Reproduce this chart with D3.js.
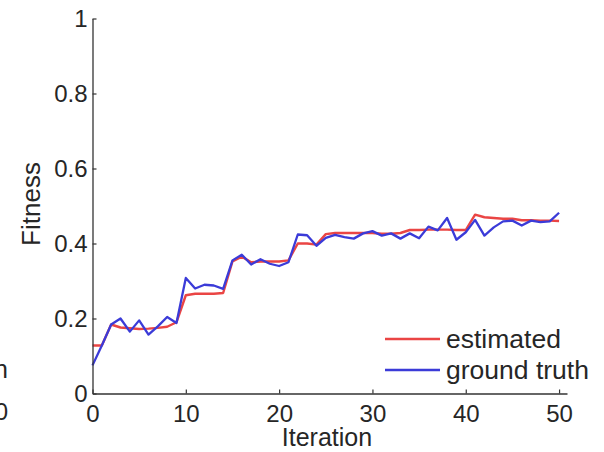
<!DOCTYPE html>
<html>
<head>
<meta charset="utf-8">
<script src="https://cdn.jsdelivr.net/npm/d3@7"></script>
<style>
  html, body { margin: 0; padding: 0; background: #fff; }
  svg { display: block; font-family: "Liberation Sans", Arial, sans-serif; }
</style>
</head>
<body>
<div id="chart"></div>
<script>
const iterations = d3.range(0, 51)

const estimated = [
  0.128, 0.128, 0.184, 0.176, 0.174, 0.172, 0.173, 0.175, 0.178, 0.190,
  0.262, 0.266, 0.266, 0.266, 0.268, 0.352, 0.365, 0.350, 0.352, 0.352,
  0.352, 0.355, 0.400, 0.400, 0.397, 0.425, 0.428, 0.428, 0.428, 0.428,
  0.428, 0.426, 0.426, 0.428, 0.436, 0.436, 0.437, 0.437, 0.437, 0.436,
  0.436, 0.477, 0.470, 0.468, 0.466, 0.466, 0.462, 0.462, 0.461, 0.461,
  0.460
]

const groundTruth = [
  0.075, 0.128, 0.184, 0.200, 0.165, 0.195, 0.157, 0.179, 0.204, 0.188,
  0.308, 0.280, 0.290, 0.288, 0.279, 0.355, 0.370, 0.344, 0.358, 0.346,
  0.340, 0.350, 0.424, 0.422, 0.394, 0.415, 0.423, 0.417, 0.413, 0.427,
  0.433, 0.421, 0.427, 0.413, 0.427, 0.414, 0.445, 0.435, 0.468, 0.410,
  0.430, 0.463, 0.421, 0.443, 0.459, 0.461, 0.448, 0.461, 0.457, 0.459,
  0.482
]

const xTicks = [0, 10, 20, 30, 40, 50]
const yTicks = [0, 0.2, 0.4, 0.6, 0.8, 1]
const seriesNames = ["estimated", "ground truth"]
const seriesColors = ["#ea4544", "#3b3bd8"]

const width = 604
const height = 452

const svg = d3.select("#chart")
  .append("svg")
  .attr("width", width)
  .attr("height", height)

const x = d3.scaleLinear()
  .domain([0, 50.85])
  .range([92.5, 567])

const y = d3.scaleLinear()
  .domain([0, 1])
  .range([393.5, 18.5])

const textColor = "#262626"
const axisColor = "#333"

// Lines
const line = d3.line()
  .x((d, i) => x(iterations[i]))
  .y(d => y(d))

svg.append("path")
  .datum(estimated)
  .attr("fill", "none")
  .attr("stroke", seriesColors[0])
  .attr("stroke-width", 2.4)
  .attr("stroke-linejoin", "round")
  .attr("d", line)

svg.append("path")
  .datum(groundTruth)
  .attr("fill", "none")
  .attr("stroke", seriesColors[1])
  .attr("stroke-width", 2.3)
  .attr("stroke-linejoin", "round")
  .attr("d", line)

// Axes (ticks point inward, matlab style)
const xAxis = svg.append("g")
  .attr("transform", `translate(0,${y(0)})`)
  .call(d3.axisBottom(x).tickValues(xTicks).tickSizeInner(-4).tickSizeOuter(0).tickPadding(11))

const yAxis = svg.append("g")
  .attr("transform", `translate(${x(0)},0)`)
  .call(d3.axisLeft(y).tickValues(yTicks).tickFormat(d3.format("~g")).tickSizeInner(-4).tickSizeOuter(0).tickPadding(5))

for (const ax of [xAxis, yAxis]) {
  ax.select(".domain").attr("stroke", axisColor).attr("stroke-width", 1.3)
  ax.selectAll(".tick line").attr("stroke", axisColor).attr("stroke-width", 1.2)
  ax.selectAll(".tick text")
    .attr("fill", textColor)
    .style("font-size", "24px")
    .style("font-family", "\"Liberation Sans\", Arial, sans-serif")
}

// Axis labels
svg.append("text")
  .attr("transform", `translate(40,204) rotate(-90)`)
  .attr("text-anchor", "middle")
  .attr("fill", textColor)
  .style("font-size", "26px")
  .text("Fitness")

svg.append("text")
  .attr("x", 327)
  .attr("y", 446)
  .attr("text-anchor", "middle")
  .attr("fill", textColor)
  .style("font-size", "25px")
  .text("Iteration")

// Legend
const legend = svg.append("g")
seriesNames.forEach((name, i) => {
  const ly = 339 + i * 31
  legend.append("line")
    .attr("x1", 385).attr("x2", 440)
    .attr("y1", ly).attr("y2", ly)
    .attr("stroke", seriesColors[i])
    .attr("stroke-width", 2.3)
  legend.append("text")
    .attr("x", 446)
    .attr("y", ly + 9)
    .attr("fill", textColor)
    .style("font-size", "26.5px")
    .text(name)
})

// Cropped edge of the neighbouring panel
svg.append("text")
  .attr("x", 8).attr("y", 378)
  .attr("text-anchor", "end")
  .attr("fill", textColor)
  .style("font-size", "25px")
  .text("Iteration")

svg.append("text")
  .attr("x", 8).attr("y", 420)
  .attr("text-anchor", "end")
  .attr("fill", textColor)
  .style("font-size", "24px")
  .text("50")
</script>
</body>
</html>
